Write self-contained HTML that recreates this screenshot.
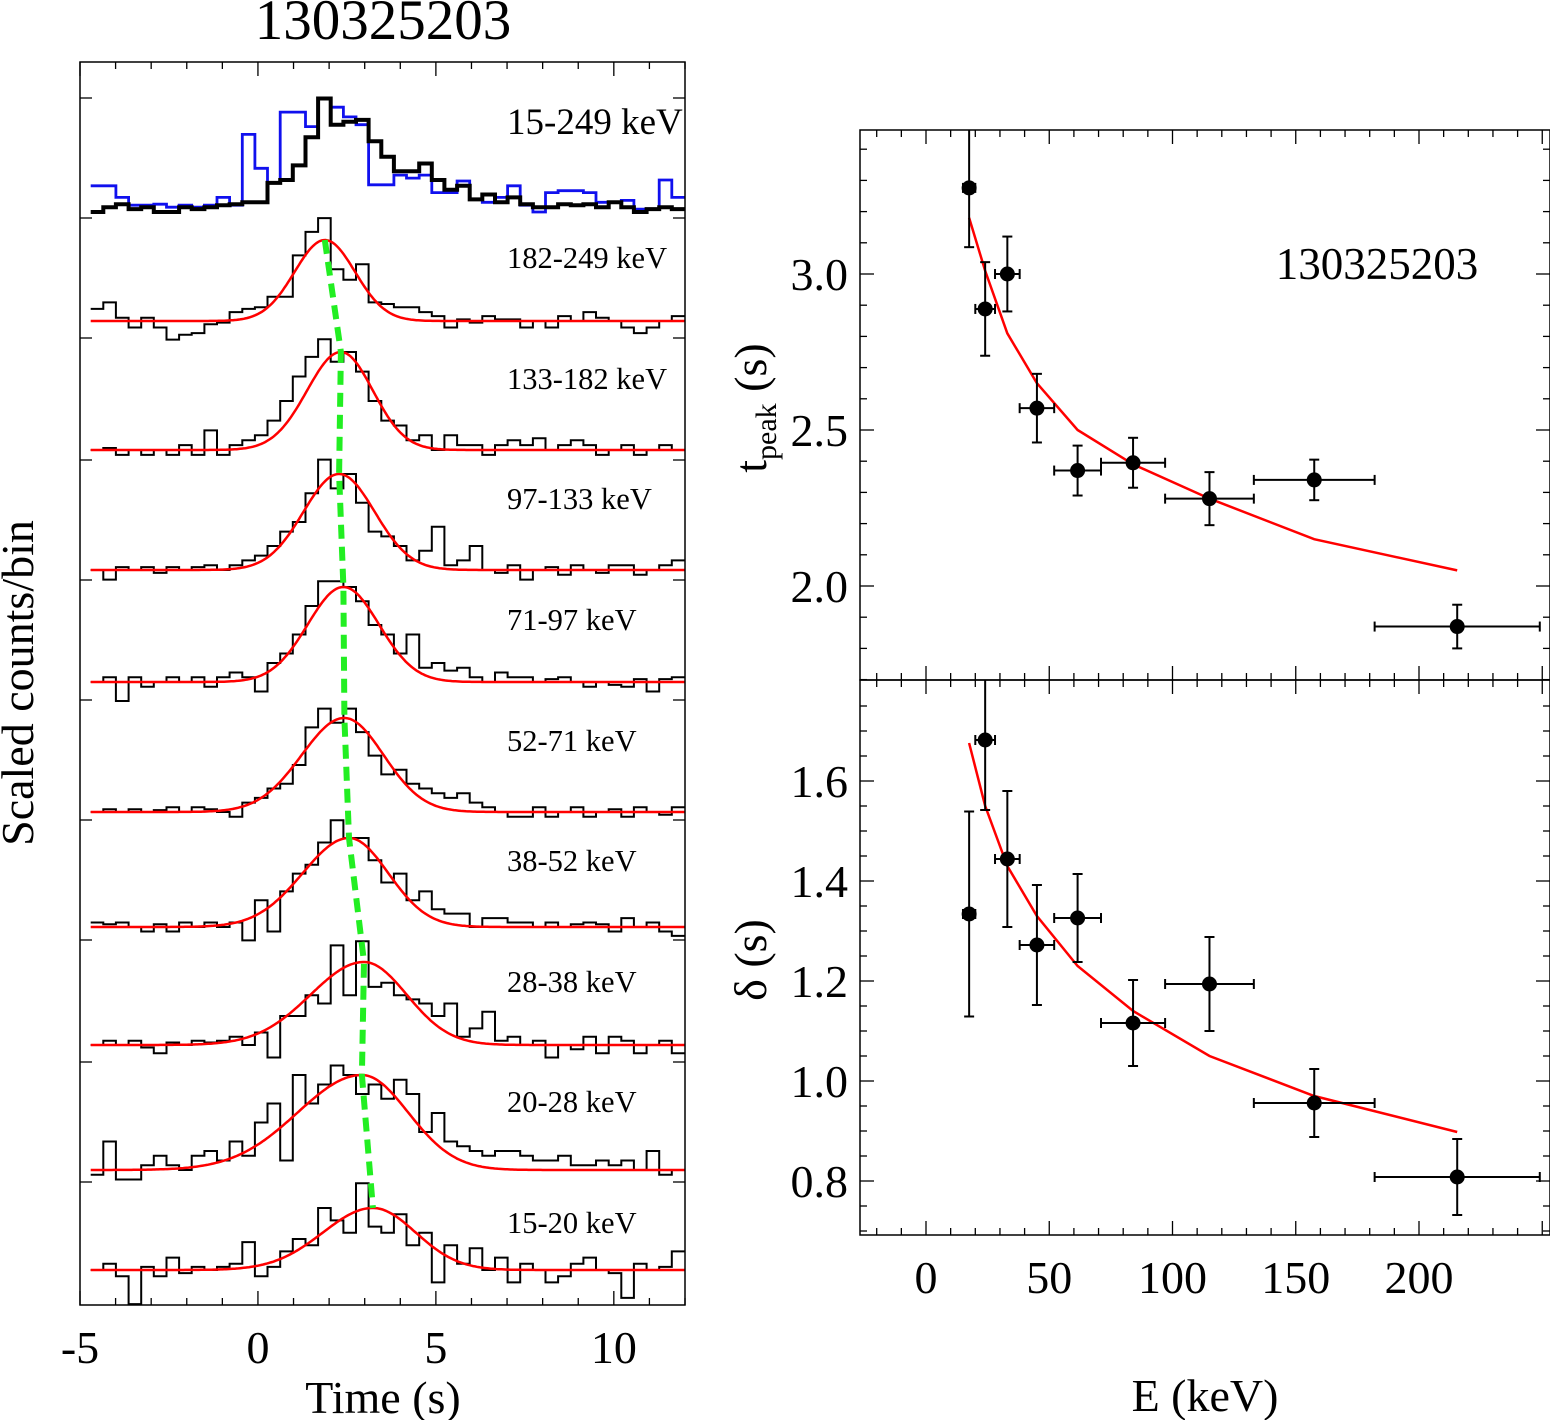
<!DOCTYPE html>
<html><head><meta charset="utf-8"><style>
html,body{margin:0;padding:0;background:#fff;}
svg{display:block;font-family:"Liberation Serif",serif;}
</style></head><body>
<svg id="chart" width="1550" height="1420" viewBox="0 0 1550 1420" xmlns="http://www.w3.org/2000/svg">
<defs>
<clipPath id="clipL"><rect x="80" y="62" width="605" height="1243"/></clipPath>
<clipPath id="clipT"><rect x="860" y="130" width="690" height="550"/></clipPath>
<clipPath id="clipB"><rect x="860" y="680" width="690" height="555"/></clipPath>
</defs>
<text x="383" y="39" font-size="57" text-anchor="middle">130325203</text>
<g id="left"></g>
<g id="right"></g>
</svg>
<script>
// ---------- left panel data ----------
const binStart = -4.7, binWidth = 0.355;
const channels = ["15-249 keV","182-249 keV","133-182 keV","97-133 keV","71-97 keV","52-71 keV","38-52 keV","28-38 keV","20-28 keV","15-20 keV"];
const totalBlack = [0.0,0.05,0.08,0.03,0.05,0.0,0.0,0.05,0.03,0.05,0.07,0.08,0.1,0.1,0.3,0.33,0.48,0.77,1.17,0.9,0.93,0.95,0.73,0.57,0.42,0.42,0.5,0.33,0.23,0.27,0.13,0.18,0.1,0.15,0.08,0.05,0.05,0.08,0.07,0.08,0.05,0.1,0.05,0.0,0.03,0.05,0.03];
const totalBlue = [0.27,0.27,0.15,0.07,0.07,0.08,0.05,0.07,0.05,0.07,0.15,0.07,0.8,0.45,0.3,1.03,1.03,0.88,1.17,1.08,0.98,0.9,0.28,0.28,0.38,0.35,0.38,0.2,0.2,0.32,0.13,0.1,0.15,0.27,0.07,0.0,0.2,0.22,0.22,0.2,0.1,0.1,0.12,0.03,0.03,0.33,0.15];
const ch182 = [0.15,0.23,0.04,-0.08,0.04,-0.08,-0.23,-0.17,-0.15,-0.04,-0.02,0.11,0.15,0.17,0.3,0.3,0.81,1.1,1.27,0.64,0.51,0.7,0.23,0.21,0.17,0.17,0.11,0.06,-0.08,0.02,-0.02,0.06,0.02,0.02,-0.08,0.0,-0.08,0.06,0.0,0.11,0.04,0.0,-0.08,-0.15,-0.08,0.0,0.06];
const ch133 = [0.0,0.02,-0.05,0.0,-0.05,0.0,-0.05,0.05,-0.05,0.2,-0.05,0.05,0.1,0.15,0.3,0.5,0.75,0.95,1.13,0.9,1.0,0.8,0.5,0.3,0.25,0.1,0.15,0.0,0.15,0.05,0.05,-0.05,0.05,0.1,0.05,0.12,0.0,0.05,0.1,0.05,-0.05,0.0,0.05,-0.05,0.0,0.05,0.0];
const ch97 = [0.0,-0.1,0.03,0.0,0.03,-0.03,0.03,0.0,0.03,0.05,0.0,0.05,0.1,0.15,0.25,0.4,0.5,0.8,1.15,0.85,1.0,0.7,0.4,0.35,0.25,0.1,0.2,0.45,0.05,0.1,0.25,0.0,-0.03,0.05,-0.1,0.0,0.03,-0.05,0.05,0.0,-0.03,0.05,0.05,-0.05,0.0,0.05,0.1];
const ch71 = [0.0,0.05,-0.2,0.05,-0.05,0.0,0.05,0.0,0.05,-0.05,0.05,0.1,0.05,-0.1,0.2,0.3,0.5,0.8,1.06,1.06,1.0,0.85,0.6,0.5,0.3,0.5,0.15,0.2,0.12,0.15,0.05,0.0,0.1,0.05,0.05,0.0,0.03,0.05,0.0,-0.05,0.0,-0.03,-0.05,0.03,-0.1,0.03,0.05];
const ch52 = [0.0,0.03,0.0,0.03,0.0,0.02,0.05,0.0,0.05,0.03,0.0,-0.05,0.1,0.15,0.25,0.3,0.5,0.9,1.1,0.95,1.1,0.85,0.6,0.4,0.45,0.3,0.25,0.2,0.15,0.2,0.1,0.05,0.0,-0.05,-0.05,0.05,-0.05,0.0,0.05,-0.05,0.0,0.03,-0.05,0.05,0.0,-0.03,0.05];
const ch38 = [0.05,0.03,0.05,0.0,-0.05,0.03,-0.05,0.05,0.0,0.05,0.0,0.05,-0.15,0.3,-0.05,0.4,0.6,0.7,0.95,1.2,1.0,1.0,0.75,0.5,0.6,0.3,0.4,0.2,0.15,0.15,0.0,0.1,0.1,0.05,0.05,0.0,0.05,0.0,0.03,0.05,0.03,-0.05,0.1,0.0,0.05,-0.05,-0.1];
const ch28 = [0.0,0.05,0.0,0.05,-0.03,-0.1,0.03,0.0,0.05,0.03,0.05,0.1,0.0,0.15,-0.15,0.35,0.35,0.6,0.5,1.2,0.6,1.25,0.7,0.75,0.6,0.55,0.5,0.35,0.5,0.1,0.2,0.4,0.05,0.1,0.0,0.05,-0.15,0.0,-0.05,0.1,-0.1,0.1,0.05,-0.1,0.0,0.05,-0.1];
const ch20 = [-0.05,0.3,-0.1,-0.1,0.05,0.15,0.05,0.0,0.15,0.2,0.1,0.3,0.15,0.5,0.7,0.1,1.0,0.7,0.9,1.1,1.0,0.8,0.9,0.75,0.95,0.8,0.4,0.6,0.3,0.25,0.2,0.15,0.2,0.2,0.15,0.1,0.1,0.15,0.05,0.05,0.1,0.05,0.1,0.0,0.2,-0.05,0.0];
const ch15 = [0.0,0.1,-0.1,-0.55,0.05,-0.1,0.2,-0.05,0.05,0.0,0.05,0.1,0.45,-0.1,0.05,0.3,0.5,0.4,1.0,0.8,0.6,1.4,0.7,0.6,0.9,0.4,0.6,-0.2,0.4,0.1,0.35,0.0,0.2,-0.2,0.1,0.0,-0.2,-0.1,0.1,0.2,0.0,-0.05,-0.45,0.1,0.0,0.05,0.3];
const fitPeak = [1.88,2.33,2.28,2.4,2.43,2.56,2.98,2.92,3.23];
const fitSigR = [0.85,0.95,1.0,1.0,1.2,1.3,1.5,1.8,1.4];
const fitSigD = [0.85,0.9,1.0,1.0,1.1,1.1,1.2,1.3,1.2];
const timeTicks = [-5,0,5,10];

// ---------- right panel data ----------
const energy = [17.5,24,33,45,61.5,84,115,157.5,215.5];
const energyLo = [15,20,28,38,52,71,97,133,182];
const energyHi = [20,28,38,52,71,97,133,182,249];
const tpeak = [3.276,2.888,3.0,2.57,2.37,2.395,2.28,2.34,1.87];
const tpeakErr = [0.19,0.15,0.12,0.11,0.08,0.08,0.085,0.065,0.07];
const tpeakFit = [3.18,3.01,2.81,2.65,2.50,2.39,2.28,2.15,2.05];
const delta = [1.334,1.682,1.444,1.272,1.326,1.116,1.194,0.956,0.808];
const deltaErr = [0.205,0.14,0.136,0.12,0.088,0.086,0.094,0.068,0.076];
const deltaFit = [1.676,1.55,1.43,1.33,1.23,1.14,1.05,0.97,0.898];
const eTicks = [0,50,100,150,200];
const tTicks = [2.0,2.5,3.0];
const dTicks = [0.8,1.0,1.2,1.4,1.6];

const NS = "http://www.w3.org/2000/svg";
function mk(tag, attrs, parent){const e=document.createElementNS(NS,tag);for(const k in attrs)e.setAttribute(k,attrs[k]);parent.appendChild(e);return e;}

// ---------- left panel ----------
const L = document.getElementById('left');
const xT = t => 80 + (t + 5) * 605 / 17;
const baselines = [212,321,450,570,682,812,927,1045,1170,1270];
const amps = [97,81,98,96,95,94,89,83,95,62];
const labelY = [134,268,389,509,630,751,871,992,1112,1233];
const series = [ch182,ch133,ch97,ch71,ch52,ch38,ch28,ch20,ch15];

function stepPath(vals, base, amp){
  let d='';
  vals.forEach((v,i)=>{
    const x0 = xT(binStart + i*binWidth), x1 = xT(binStart + (i+1)*binWidth);
    const y = base - v*amp;
    d += (i===0 ? 'M' : 'L') + x0.toFixed(1)+','+y.toFixed(1)+' L'+x1.toFixed(1)+','+y.toFixed(1)+' ';
  });
  return d;
}
const gL = mk('g',{'clip-path':'url(#clipL)'},L);
const blueP = mk('path',{d:stepPath(totalBlue,baselines[0],amps[0]),fill:'none',stroke:'#1010ee','stroke-width':2.8},gL);


const blackP = mk('path',{d:stepPath(totalBlack,baselines[0],amps[0]),fill:'none',stroke:'#000','stroke-width':4},gL);



const peakPts = [];
series.forEach((vals,k)=>{
  const base = baselines[k+1], amp = amps[k+1];
  const h = mk('path',{d:stepPath(vals,base,amp),fill:'none',stroke:'#000','stroke-width':2},gL);
  
  
  let d='';
  for(let t=-4.7;t<=12.01;t+=0.05){
    const s = t<fitPeak[k]?fitSigR[k]:fitSigD[k];
    const v = Math.exp(-Math.pow(t-fitPeak[k],2)/(2*s*s));
    d += (d?'L':'M')+xT(t).toFixed(1)+','+(base - v*amp).toFixed(1)+' ';
  }
  const f = mk('path',{d:d,fill:'none',stroke:'#ff0000','stroke-width':2.5},gL);
  
  
  peakPts.push(xT(fitPeak[k]).toFixed(1)+','+(base-amp).toFixed(1));
});
const green = mk('polyline',{points:peakPts.join(' '),fill:'none',stroke:'#22ee22','stroke-width':6,'stroke-dasharray':'14 8'},gL);



channels.forEach((c,k)=>{
  const t = mk('text',{x:507,y:labelY[k],'font-size':k===0?37:30.5},L);
  t.textContent = c;
  
  
});
const fr = mk('rect',{x:80,y:62,width:605,height:1243,fill:'none',stroke:'#000','stroke-width':1.5},L);


for(let t=-5;t<=12;t++){
  const len = (t%5===0)?14:7;
  mk('line',{x1:xT(t),x2:xT(t),y1:1305,y2:1305-len,stroke:'#000','stroke-width':1.3},L);
  mk('line',{x1:xT(t),x2:xT(t),y1:62,y2:62+len,stroke:'#000','stroke-width':1.3},L);
}
[98,218,338,460,580,700,820,940,1062,1182].forEach(y=>{
  mk('line',{x1:80,x2:92,y1:y,y2:y,stroke:'#000','stroke-width':1.3},L);
  mk('line',{x1:685,x2:673,y1:y,y2:y,stroke:'#000','stroke-width':1.3},L);
});
timeTicks.forEach(t=>{
  const e = mk('text',{x:xT(t),y:1363,'font-size':46,'text-anchor':'middle'},L);
  e.textContent = String(t);
  
  
});
const xl = mk('text',{x:383,y:1413,'font-size':46,'text-anchor':'middle'},L);
xl.textContent='Time (s)';


const yl = mk('text',{x:0,y:0,'font-size':46,'text-anchor':'middle',transform:'translate(33,683) rotate(-90)'},L);
yl.textContent='Scaled counts/bin';



// ---------- right panels ----------
const R = document.getElementById('right');
const xE = e => 926 + e*2.465;
const yTp = v => 274 - (v-3.0)*312;
const yD = v => 781 - (v-1.6)*500;

function panel(y0,y1,clip,vals,errs,fit,yf,ticks,minorStep,vmin,vmax,name){
  const g = mk('g',{'clip-path':'url(#'+clip+')'},R);
  const fl = mk('polyline',{points:energy.map((e,i)=>xE(e).toFixed(1)+','+yf(fit[i]).toFixed(1)).join(' '),fill:'none',stroke:'#ff0000','stroke-width':2.5},g);
  
  
  energy.forEach((e,i)=>{
    const x=xE(e), y=yf(vals[i]);
    mk('line',{x1:xE(energyLo[i]),x2:xE(energyHi[i]),y1:y,y2:y,stroke:'#000','stroke-width':2},g);
    mk('line',{x1:xE(energyLo[i]),x2:xE(energyLo[i]),y1:y-5,y2:y+5,stroke:'#000','stroke-width':2},g);
    mk('line',{x1:xE(energyHi[i]),x2:xE(energyHi[i]),y1:y-5,y2:y+5,stroke:'#000','stroke-width':2},g);
    const ya=yf(vals[i]+errs[i]), yb=yf(vals[i]-errs[i]);
    mk('line',{x1:x,x2:x,y1:ya,y2:yb,stroke:'#000','stroke-width':2},g);
    mk('line',{x1:x-5,x2:x+5,y1:ya,y2:ya,stroke:'#000','stroke-width':2},g);
    mk('line',{x1:x-5,x2:x+5,y1:yb,y2:yb,stroke:'#000','stroke-width':2},g);
    const c = mk('circle',{cx:x,cy:y,r:7.5,fill:'#000'},g);
    
    
  });
  const f = mk('rect',{x:860,y:y0,width:690,height:y1-y0,fill:'none',stroke:'#000','stroke-width':1.5},R);
  
  
  for(let e=-20;e<=250;e+=10){
    const len = (e%50===0)?14:7;
    mk('line',{x1:xE(e),x2:xE(e),y1:y1,y2:y1-len,stroke:'#000','stroke-width':1.3},R);
    mk('line',{x1:xE(e),x2:xE(e),y1:y0,y2:y0+len,stroke:'#000','stroke-width':1.3},R);
  }
  for(let v=Math.ceil(vmin/minorStep)*minorStep; v<=vmax; v+=minorStep){
    const y=yf(v); if(y<y0||y>y1) continue;
    const major = ticks.some(t=>Math.abs(t-v)<1e-6);
    const len = major?14:7;
    mk('line',{x1:860,x2:860+len,y1:y,y2:y,stroke:'#000','stroke-width':1.3},R);
    mk('line',{x1:1550,x2:1550-len,y1:y,y2:y,stroke:'#000','stroke-width':1.3},R);
  }
  ticks.forEach(t=>{
    const e = mk('text',{x:848,y:yf(t)+16,'font-size':46,'text-anchor':'end'},R);
    e.textContent = t.toFixed(1);
    
    
  });
}
panel(130,680,'clipT',tpeak,tpeakErr,tpeakFit,yTp,tTicks,0.1,1.7,3.5,'tpeak');
panel(680,1235,'clipB',delta,deltaErr,deltaFit,yD,dTicks,0.05,0.65,1.8,'delta');

eTicks.forEach(e=>{
  const t = mk('text',{x:xE(e),y:1293,'font-size':46,'text-anchor':'middle'},R);
  t.textContent=String(e);
  
  
});
const ex = mk('text',{x:1205,y:1411,'font-size':46,'text-anchor':'middle'},R);
ex.textContent='E (keV)';


const tl = mk('text',{x:1377,y:279,'font-size':45,'text-anchor':'middle'},R);
tl.textContent='130325203';


const ty = mk('text',{x:0,y:0,'font-size':46,'text-anchor':'middle',transform:'translate(766,408) rotate(-90)'},R);
ty.innerHTML='t<tspan font-size="30" dy="10">peak</tspan><tspan dy="-10"> (s)</tspan>';


const dy = mk('text',{x:0,y:0,'font-size':46,'text-anchor':'middle',transform:'translate(766,960) rotate(-90)'},R);
dy.textContent='δ (s)';


</script>
</body></html>
